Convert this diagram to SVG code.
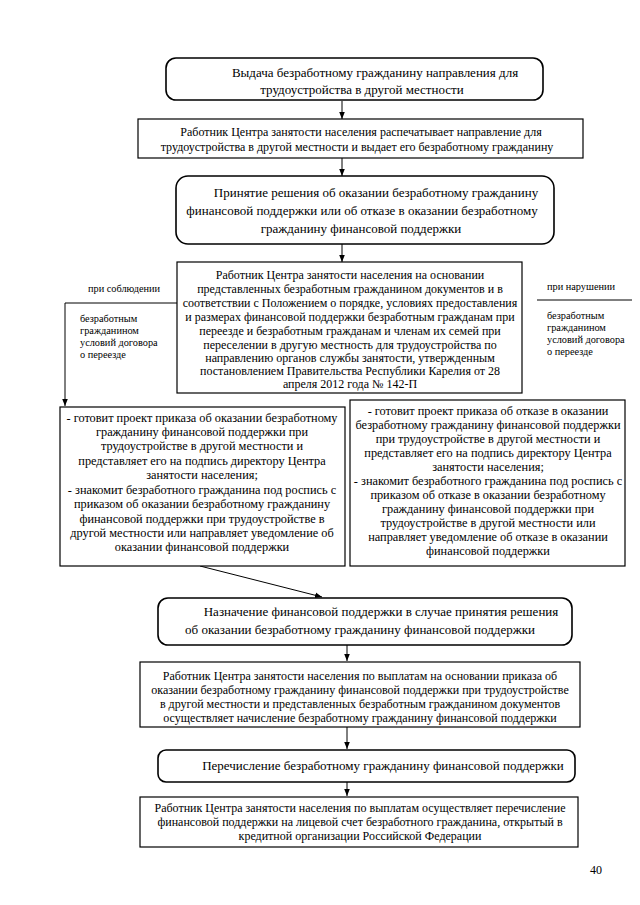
<svg xmlns="http://www.w3.org/2000/svg" width="640" height="905" viewBox="0 0 640 905">
<defs>
<style>
text{font-family:"Liberation Serif","Times New Roman",serif;fill:#000}
.t13{font-size:13px}
.t12{font-size:12px}
.t125{font-size:12.3px}
.t10{font-size:10.3px}
.m{text-anchor:middle}
.box{fill:#fff;stroke:#000;stroke-width:1.2}
.rbox{fill:#fff;stroke:#000;stroke-width:1.6}
.ln{stroke:#000;stroke-width:1;fill:none}
</style>
<marker id="ah" viewBox="0 0 10 10" refX="10" refY="5" markerWidth="7" markerHeight="7" orient="auto" markerUnits="userSpaceOnUse">
<path d="M0,1 L10,5 L0,9 Z" fill="#000"/>
</marker>
</defs>
<rect width="640" height="905" fill="#fff"/>

<g id="connectors">
<line class="ln" x1="342" y1="101" x2="342" y2="119" marker-end="url(#ah)"/>
<line class="ln" x1="342" y1="158" x2="342" y2="176" marker-end="url(#ah)"/>
<line class="ln" x1="342" y1="244" x2="342" y2="262" marker-end="url(#ah)"/>
<polyline class="ln" points="177,303 65,303 65,406" marker-end="url(#ah)"/>
<line class="ln" x1="537" y1="300" x2="632" y2="300"/>
<line class="ln" x1="200" y1="566" x2="322" y2="597" marker-end="url(#ah)"/>
<line class="ln" x1="347" y1="645" x2="347" y2="661" marker-end="url(#ah)"/>
<line class="ln" x1="347" y1="727" x2="347" y2="749" marker-end="url(#ah)"/>
<line class="ln" x1="347" y1="782" x2="347" y2="796" marker-end="url(#ah)"/>
</g>

<g id="n1">
<rect class="rbox" x="166" y="58" width="377" height="42" rx="10"/>
<text class="t13 m" x="375" y="77">Выдача безработному гражданину направления для</text>
<text class="t13 m" x="362" y="94">трудоустройства в другой местности</text>
</g>

<g id="n2">
<rect class="box" x="138" y="119" width="445" height="39"/>
<text class="t12 m" x="361" y="136">Работник Центра занятости населения распечатывает направление для</text>
<text class="t12 m" x="357" y="151">трудоустройства в другой местности и выдает его безработному гражданину</text>
</g>

<g id="n3">
<rect class="rbox" x="176" y="176" width="378" height="68" rx="12"/>
<text class="t13 m" x="376" y="197">Принятие решения об оказании безработному гражданину</text>
<text class="t13 m" x="362" y="215">финансовой поддержки или об отказе в оказании безработному</text>
<text class="t13 m" x="361" y="233">гражданину финансовой поддержки</text>
</g>

<g id="n4">
<rect class="box" x="177" y="262" width="345" height="131"/>
<g class="t12 m">
<text x="350" y="279">Работник Центра занятости населения на основании</text>
<text x="350" y="293">представленных безработным гражданином документов и в</text>
<text x="350" y="307">соответствии с Положением о порядке, условиях предоставления</text>
<text x="350" y="321">и размерах финансовой поддержки безработным гражданам при</text>
<text x="350" y="335">переезде и безработным гражданам и членам их семей при</text>
<text x="350" y="349">переселении в другую местность для трудоустройства по</text>
<text x="350" y="362">направлению органов службы занятости, утвержденным</text>
<text x="350" y="375">постановлением Правительства Республики Карелия от 28</text>
<text x="350" y="388">апреля 2012 года № 142-П</text>
</g>
</g>

<g id="lbl-left">
<text class="t10" x="88" y="292">при соблюдении</text>
<text class="t10" x="80" y="322">безработным</text>
<text class="t10" x="80" y="334">гражданином</text>
<text class="t10" x="80" y="346">условий договора</text>
<text class="t10" x="80" y="358">о переезде</text>
</g>

<g id="lbl-right">
<text class="t10" x="547" y="290">при нарушении</text>
<text class="t10" x="547" y="319">безработным</text>
<text class="t10" x="547" y="331">гражданином</text>
<text class="t10" x="547" y="343">условий  договора</text>
<text class="t10" x="547" y="355">о переезде</text>
</g>

<g id="n5">
<rect class="box" x="60" y="407" width="285" height="159"/>
<g class="t125 m">
<text x="202" y="422">- готовит проект приказа об оказании безработному</text>
<text x="202" y="436">гражданину финансовой поддержки при</text>
<text x="202" y="450">трудоустройстве в другой местности и</text>
<text x="202" y="465">представляет его на подпись директору Центра</text>
<text x="202" y="479">занятости населения;</text>
<text x="202" y="494">- знакомит безработного гражданина под роспись с</text>
<text x="202" y="508">приказом об оказании безработному гражданину</text>
<text x="202" y="523">финансовой поддержки при трудоустройстве в</text>
<text x="202" y="537">другой местности или направляет уведомление об</text>
<text x="202" y="551">оказании финансовой поддержки</text>
</g>
</g>

<g id="n6">
<rect class="box" x="350" y="400" width="275" height="166"/>
<g class="t125 m">
<text x="488" y="415">- готовит проект приказа об отказе в  оказании</text>
<text x="488" y="429">безработному гражданину финансовой поддержки</text>
<text x="488" y="443">при трудоустройстве в другой местности и</text>
<text x="488" y="457">представляет его на подпись директору Центра</text>
<text x="488" y="471">занятости населения;</text>
<text x="488" y="485">- знакомит безработного гражданина под роспись с</text>
<text x="488" y="499">приказом об отказе в  оказании безработному</text>
<text x="488" y="513">гражданину финансовой поддержки при</text>
<text x="488" y="527">трудоустройстве в другой местности или</text>
<text x="488" y="541">направляет уведомление об отказе в оказании</text>
<text x="488" y="555">финансовой поддержки</text>
</g>
</g>

<g id="n7">
<rect class="rbox" x="158" y="598" width="414" height="47" rx="10"/>
<text class="t13 m" x="381" y="616">Назначение финансовой поддержки в случае принятия решения</text>
<text class="t13 m" x="360" y="634">об оказании безработному гражданину финансовой поддержки</text>
</g>

<g id="n8">
<rect class="box" x="140" y="662" width="440" height="65"/>
<g class="t12 m">
<text x="360" y="680">Работник Центра занятости населения по выплатам на основании приказа об</text>
<text x="360" y="694">оказании безработному гражданину финансовой поддержки при трудоустройстве</text>
<text x="360" y="708">в другой местности и представленных безработным гражданином документов</text>
<text x="360" y="722">осуществляет начисление безработному гражданину финансовой поддержки</text>
</g>
</g>

<g id="n9">
<rect class="rbox" x="158" y="750" width="417" height="32" rx="8"/>
<text class="t13 m" x="383" y="770">Перечисление безработному гражданину финансовой поддержки</text>
</g>

<g id="n10">
<rect class="box" x="140" y="797" width="438" height="50"/>
<g class="t12 m">
<text x="360" y="812">Работник Центра занятости населения по выплатам осуществляет перечисление</text>
<text x="360" y="826">финансовой поддержки на лицевой счет безработного гражданина, открытый в</text>
<text x="360" y="840">кредитной организации Российской Федерации</text>
</g>
</g>

<text class="t12" x="590" y="874">40</text>
</svg>
